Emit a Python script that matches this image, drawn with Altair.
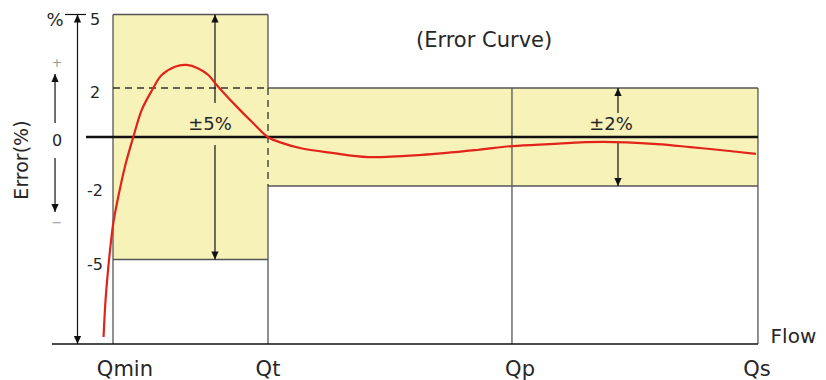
import altair as alt
import pandas as pd

# ---------------- data ----------------
FLOW_LABELS = ["Qmin", "Qt", "Qp", "Qs"]
FLOW_POS = [0.0, 1.0, 2.574, 4.161]          # position of each flow point on the flow axis
LABEL_POS = [0.077, 1.0, 2.626, 4.155]       # where each flow label sits
LOW_ZONE_LIMIT = 5    # ±5 % between Qmin and Qt
HIGH_ZONE_LIMIT = 2   # ±2 % between Qt and Qs
Y_TICKS = [5, 2, -2, -5]
Y_BOTTOM = -8.45

CURVE_FLOW = [-0.061, -0.048, -0.032, -0.019, 0.002, 0.034, 0.077, 0.131, 0.185, 0.250,
              0.314, 0.400, 0.475, 0.550, 0.615, 0.669, 0.703, 0.798, 0.905, 0.998,
              1.099, 1.206, 1.413, 1.645, 1.994, 2.348, 2.574, 2.813, 3.161, 3.510,
              3.723, 3.900, 4.148]
CURVE_ERR = [-8.16, -6.65, -5.43, -4.61, -3.51, -2.44, -1.21, 0.0, 1.10, 1.89,
             2.53, 2.87, 2.94, 2.80, 2.53, 2.12, 1.88, 1.24, 0.56, 0.0,
             -0.26, -0.45, -0.65, -0.82, -0.73, -0.53, -0.37, -0.29, -0.20, -0.29,
             -0.41, -0.52, -0.69]

XMIN, XMAX = -0.6774, 4.5484
YMIN, YMAX = -9.918, 5.2653

xs = alt.Scale(domain=[XMIN, XMAX], nice=False, zero=False)
ys = alt.Scale(domain=[YMIN, YMAX], nice=False, zero=False)

FONT = "DejaVu Sans"
TXT = "#262626"
q_min, q_t, q_p, q_s = FLOW_POS

def enc_seg():
    return dict(
        x=alt.X("x1:Q", scale=xs, axis=None),
        x2="x2:Q",
        y=alt.Y("y1:Q", scale=ys, axis=None),
        y2="y2:Q",
    )

# yellow tolerance zones
zones = pd.DataFrame({
    "x1": [q_min, q_t], "x2": [q_t, q_s],
    "y1": [-LOW_ZONE_LIMIT, -HIGH_ZONE_LIMIT], "y2": [LOW_ZONE_LIMIT, HIGH_ZONE_LIMIT],
})
zone_layer = alt.Chart(zones).mark_rect(color="#f7f2b8").encode(**enc_seg())

# grey outlines (solid)
solid = pd.DataFrame([
    (q_min, Y_BOTTOM, q_min, LOW_ZONE_LIMIT),
    (q_min, LOW_ZONE_LIMIT, q_t, LOW_ZONE_LIMIT),
    (q_min, -LOW_ZONE_LIMIT, q_t, -LOW_ZONE_LIMIT),
    (q_t, LOW_ZONE_LIMIT, q_t, HIGH_ZONE_LIMIT),
    (q_t, -HIGH_ZONE_LIMIT, q_t, Y_BOTTOM),
    (q_t, HIGH_ZONE_LIMIT, q_s, HIGH_ZONE_LIMIT),
    (q_t, -HIGH_ZONE_LIMIT, q_s, -HIGH_ZONE_LIMIT),
    (q_p, Y_BOTTOM, q_p, HIGH_ZONE_LIMIT),
    (q_s, Y_BOTTOM, q_s, HIGH_ZONE_LIMIT),
], columns=["x1", "y1", "x2", "y2"])
solid_layer = alt.Chart(solid).mark_rule(color="#555555", strokeWidth=1.3).encode(**enc_seg())

dashed = pd.DataFrame([
    (q_min, HIGH_ZONE_LIMIT, q_t, HIGH_ZONE_LIMIT),
    (q_t, HIGH_ZONE_LIMIT, q_t, -HIGH_ZONE_LIMIT),
], columns=["x1", "y1", "x2", "y2"])
dashed_layer = alt.Chart(dashed).mark_rule(color="#333333", strokeWidth=1.3, strokeDash=[7, 5]).encode(**enc_seg())

# black axis / zero lines
zero_line = alt.Chart(pd.DataFrame([(-0.174, 0, q_s, 0)], columns=["x1", "y1", "x2", "y2"])) \
    .mark_rule(color="#111111", strokeWidth=2.5).encode(**enc_seg())
base_line = alt.Chart(pd.DataFrame([(-0.394, Y_BOTTOM, q_s, Y_BOTTOM)], columns=["x1", "y1", "x2", "y2"])) \
    .mark_rule(color="#111111", strokeWidth=1.6).encode(**enc_seg())

# arrow shafts
shafts = pd.DataFrame([
    (-0.229, LOW_ZONE_LIMIT, -0.229, Y_BOTTOM),
    (-0.31, LOW_ZONE_LIMIT, -0.174, LOW_ZONE_LIMIT),
    (0.658, 1.39, 0.658, LOW_ZONE_LIMIT),
    (0.658, -0.33, 0.658, -LOW_ZONE_LIMIT),
    (3.258, 0.98, 3.258, HIGH_ZONE_LIMIT),
    (3.258, -0.245, 3.258, -HIGH_ZONE_LIMIT),
    (-0.374, 0.57, -0.374, 2.57),
    (-0.374, -0.86, -0.374, -3.06),
], columns=["x1", "y1", "x2", "y2"])
shaft_layer = alt.Chart(shafts).mark_rule(color="#111111", strokeWidth=1.2).encode(**enc_seg())

UP_HEAD = "M0,0 L-0.45,1 L0.45,1 Z"
DOWN_HEAD = "M0,0 L-0.45,-1 L0.45,-1 Z"
heads_up = pd.DataFrame({"x": [-0.229, 0.658, 3.258, -0.374], "y": [LOW_ZONE_LIMIT, LOW_ZONE_LIMIT, HIGH_ZONE_LIMIT, 2.57]})
heads_dn = pd.DataFrame({"x": [-0.229, 0.658, 3.258, -0.374], "y": [Y_BOTTOM, -LOW_ZONE_LIMIT, -HIGH_ZONE_LIMIT, -3.06]})
head_up_layer = alt.Chart(heads_up).mark_point(shape=UP_HEAD, filled=True, size=260, color="#111111", opacity=1).encode(
    x=alt.X("x:Q", scale=xs, axis=None), y=alt.Y("y:Q", scale=ys, axis=None))
head_dn_layer = alt.Chart(heads_dn).mark_point(shape=DOWN_HEAD, filled=True, size=260, color="#111111", opacity=1).encode(
    x=alt.X("x:Q", scale=xs, axis=None), y=alt.Y("y:Q", scale=ys, axis=None))

# error curve
curve = pd.DataFrame({"flow": CURVE_FLOW, "err": CURVE_ERR})
curve_layer = alt.Chart(curve).mark_line(color="#e2231a", strokeWidth=2.2, interpolate="catmull-rom").encode(
    x=alt.X("flow:Q", scale=xs, axis=None), y=alt.Y("err:Q", scale=ys, axis=None))

def text_layer(df, size, color=TXT, **kw):
    return alt.Chart(df).mark_text(font=FONT, fontSize=size, color=color, align="center",
                                   baseline="middle", **kw).encode(
        x=alt.X("x:Q", scale=xs, axis=None), y=alt.Y("y:Q", scale=ys, axis=None), text="t:N")

tick_txt = text_layer(pd.DataFrame({"x": [-0.116] * len(Y_TICKS), "y": Y_TICKS,
                                    "t": [str(v) for v in Y_TICKS]}), 16, dy=5)
flow_txt = text_layer(pd.DataFrame({"x": LABEL_POS, "y": [-9.51] * 4, "t": FLOW_LABELS}), 21)
title_txt = text_layer(pd.DataFrame({"x": [2.394], "y": [3.92], "t": ["(Error Curve)"]}), 21)
axis_name_txt = text_layer(pd.DataFrame({"x": [4.39], "y": [-8.16], "t": ["Flow"]}), 20)
mid_txt = text_layer(pd.DataFrame({
    "x": [-0.374, 0.626, 3.213],
    "y": [4.73, 0.49, 0.49],
    "t": ["%", "±5%", "±2%"],
}), 18)
zero_txt = text_layer(pd.DataFrame({"x": [-0.361], "y": [-0.16], "t": ["0"]}), 16)
sign_txt = text_layer(pd.DataFrame({"x": [-0.361, -0.361], "y": [3.02, -3.51], "t": ["+", "−"]}), 13, color="#9a9a9a")
ylabel_txt = text_layer(pd.DataFrame({"x": [-0.587], "y": [-0.94], "t": ["Error(%)"]}), 19, angle=270)

chart = alt.layer(
    zone_layer, solid_layer, dashed_layer, zero_line, base_line, shaft_layer,
    head_up_layer, head_dn_layer, curve_layer,
    tick_txt, flow_txt, title_txt, axis_name_txt, mid_txt, zero_txt, sign_txt, ylabel_txt,
).properties(
    width=810, height=372, padding=0,
    autosize=alt.AutoSizeParams(type="none"),
    background="white",
).configure_view(strokeWidth=0)

chart.save("out.html", embed_options={"renderer": "svg", "actions": False})
